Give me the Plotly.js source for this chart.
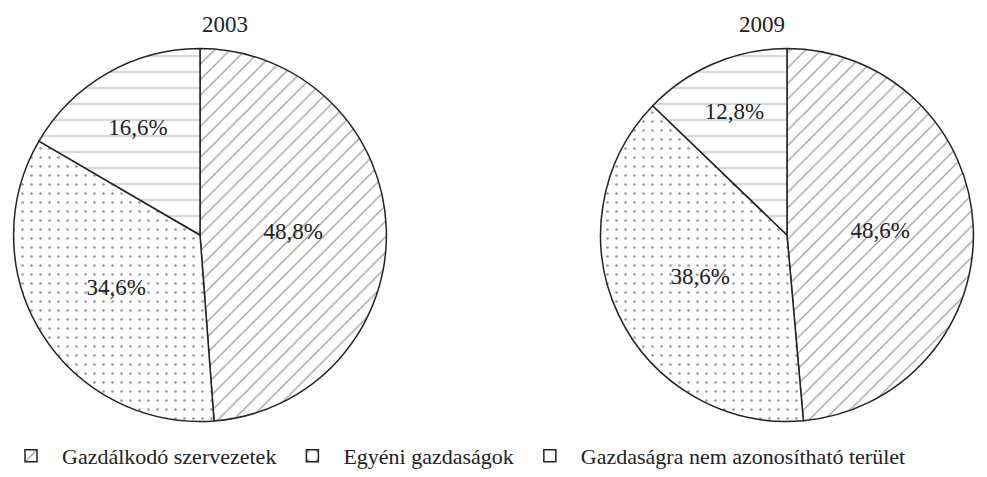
<!DOCTYPE html>
<html>
<head>
<meta charset="utf-8">
<script src="https://cdn.plot.ly/plotly-3.0.1.min.js"></script>
<style>
html,body{margin:0;padding:0;background:#fff;}
#chart{width:987px;height:477px;}
</style>
</head>
<body>
<div id="chart"></div>
<script>
const categories = ["Gazdálkodó szervezetek", "Egyéni gazdaságok", "Gazdaságra nem azonosítható terület"];
const years = ["2003", "2009"];
const values2003 = [48.8, 34.6, 16.6];
const values2009 = [48.6, 38.6, 12.8];

const patternShapes = ["/", ".", "-"];
const font = "Times New Roman, Liberation Serif, serif";

function pieTrace(vals, domainX, showlegend) {
  return {
    type: "pie",
    labels: categories,
    values: vals,
    sort: false,
    direction: "clockwise",
    rotation: 0,
    domain: {x: domainX, y: [52/477, 428/477]},
    texttemplate: "%{value:.1f}%",
    textposition: "inside",
    insidetextorientation: "horizontal",
    textfont: {family: font, size: 23, color: "#222"},
    hoverinfo: "label+value",
    showlegend: showlegend,
    marker: {
      colors: ["#ffffff", "#ffffff", "#ffffff"],
      line: {color: "#222", width: 1.5},
      pattern: {
        shape: patternShapes,
        fgcolor: "#333",
        bgcolor: "#ffffff",
        size: [11, 9, 16],
        solidity: [0.11, 0.07, 0.05],
        fillmode: "overlay"
      }
    }
  };
}

const data = [
  pieTrace(values2003, [12/987, 388/987], true),
  pieTrace(values2009, [599/987, 975/987], false)
];

const layout = {
  width: 987, height: 477,
  margin: {l: 0, r: 0, t: 0, b: 0},
  paper_bgcolor: "#fff",
  separators: ",.",
  font: {family: font, color: "#222", size: 20},
  showlegend: true,
  legend: {
    orientation: "h", x: 0.0, xanchor: "left", y: 0.035, yanchor: "middle",
    font: {family: font, size: 22, color: "#222"},
    traceorder: "normal",
    itemwidth: 52
  },
  annotations: [
    {text: years[0], x: 200/987, y: 1 - 25/477, xref: "paper", yref: "paper", yanchor: "middle", showarrow: false, font: {family: font, size: 23, color: "#222"}},
    {text: years[1], x: 787/987, y: 1 - 25/477, xref: "paper", yref: "paper", yanchor: "middle", showarrow: false, font: {family: font, size: 23, color: "#222"}}
  ]
};

Plotly.newPlot("chart", data, layout, {displayModeBar: false, staticPlot: true});
</script>
</body>
</html>
